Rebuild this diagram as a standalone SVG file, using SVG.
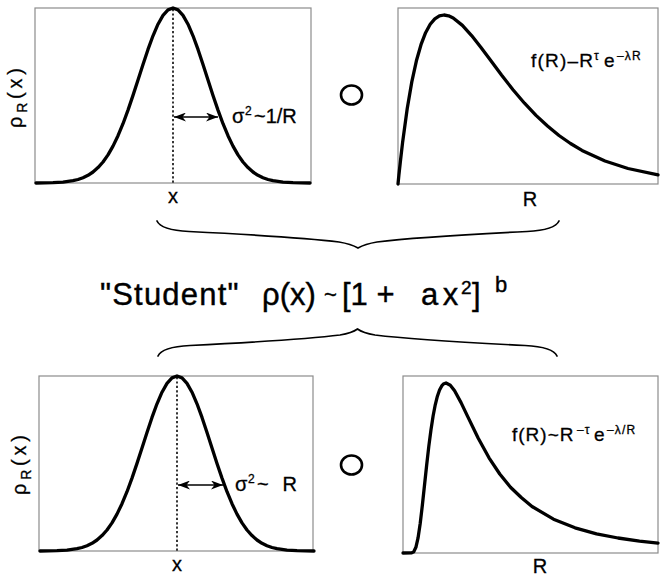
<svg xmlns="http://www.w3.org/2000/svg" xmlns:xlink="http://www.w3.org/1999/xlink" width="660" height="578" viewBox="0 0 660 578">
<style>
  .box { fill: none; stroke: #8c8c8c; stroke-width: 1.2; }
  .curve { fill: none; stroke: #000; stroke-width: 3.3; stroke-linejoin: round; stroke-linecap: round; }
  .dot { stroke: #222; stroke-width: 1.8; stroke-dasharray: 2.2 2.2; }
  .arr { stroke: #000; stroke-width: 1.7; marker-start: url(#ah); marker-end: url(#ah); }
  .op { fill: none; stroke: #000; stroke-width: 2.6; }
  .brace { fill: none; stroke: #000; stroke-width: 1.7; stroke-linecap: round; }
  text { font-family: "Liberation Sans", Arial, sans-serif; fill: #000; stroke: #000; stroke-width: 0.3; }
  .lab { font-size: 20px; }
  .sig { font-size: 20px; }
  .yl { font-size: 20px; }
  .fm { font-size: 19px; }
  .big { font-size: 31px; stroke-width: 0.4; }
</style>
<defs>
  <marker id="ah" viewBox="0 0 12 9" refX="12" refY="4.5" markerWidth="12" markerHeight="9" markerUnits="userSpaceOnUse" orient="auto-start-reverse">
    <path d="M0,0 L12,4.5 L0,9 L3.5,4.5 z" fill="#000"/>
  </marker>
  <path id="gauss" class="curve" d="M-137,0 L-120,-0.3 L-110,-0.9 L-100,-2.3 L-95,-3.5 L-90,-5.3 L-85,-7.7 L-80,-11 L-75,-15.4 L-70,-21 L-65,-28.1 L-60,-36.9 L-55,-47.3 L-50,-59.3 L-45,-72.9 L-40,-87.6 L-35,-103 L-30,-118.4 L-25,-133.6 L-20,-147.2 L-15,-158.8 L-10,-167.6 L-5,-173.1 L0,-175 L5,-173.1 L10,-167.6 L15,-158.8 L20,-147.2 L25,-133.6 L30,-118.4 L35,-103 L40,-87.6 L45,-72.9 L50,-59.3 L55,-47.3 L60,-36.9 L65,-28.1 L70,-21 L75,-15.4 L80,-11 L85,-7.7 L90,-5.3 L95,-3.5 L100,-2.3 L110,-0.9 L120,-0.3 L137,0"/>
</defs>

<g id="panel-top-left">
  <rect class="box" x="35" y="8" width="276" height="175"/>
  <line class="dot" x1="173" y1="9" x2="173" y2="183"/>
  <use xlink:href="#gauss" href="#gauss" transform="translate(173,183)"/>
  <line class="arr" x1="174" y1="117" x2="218" y2="117"/>
  <text class="sig" y="123"><tspan x="232">σ</tspan><tspan x="245" dy="-8" font-size="12">2</tspan><tspan x="254" dy="8">~1/R</tspan></text>
  <text class="lab" x="173" y="203" text-anchor="middle">x</text>
  <text class="yl" transform="translate(22,98) rotate(-90)" text-anchor="middle" textLength="60" lengthAdjust="spacing">ρ<tspan font-size="14" dy="5">R</tspan><tspan dy="-5">(x)</tspan></text>
</g>

<g id="op-top">
  <ellipse class="op" cx="351.5" cy="95" rx="10.5" ry="9.5"/>
</g>

<g id="panel-top-right">
  <rect class="box" x="398" y="8" width="260" height="176"/>
  <path class="curve" d="M398,184 L398.9,175 L400.3,162.2 L402.6,142.4 L407.2,108.8 L411.8,81.9 L416.4,60.8 L421,44.7 L425.6,32.7 L430.2,24.3 L434.8,18.9 L439.4,15.9 L444,15 L448.6,15.8 L453.2,18 L462.4,25.4 L471.6,35.6 L480.8,47.3 L490,59.6 L501.5,75 L513,89.7 L524.5,103.2 L536,115.4 L547.5,126 L559,135.5 L570.5,143.5 L582,150.4 L605,161 L628,168.5 L658,174.9"/>
  <text class="fm" y="67" letter-spacing="1.2"><tspan x="531">f(R)–R</tspan><tspan x="594" dy="-7" font-size="12">τ</tspan><tspan x="604" dy="7">e</tspan><tspan x="617" dy="-7" font-size="12" letter-spacing="1.2">–λR</tspan></text>
  <text class="lab" x="530" y="206" text-anchor="middle">R</text>
</g>

<g id="connectors">
  <path class="brace" d="M157,221 Q161,230 189,231.5 Q299,237 339,242 Q351,244 358,248 Q365,244 377,242 Q417,237 527,231.5 Q555,230 559,221"/>
  <path class="brace" d="M158,356 Q162,347 190,345.5 Q300,340 340,335 Q352,333 357.5,329 Q363,333 375,335 Q415,340 525,345.5 Q553,347 557,356"/>
</g>

<g id="formula">
  <text class="big" y="305"><tspan x="100" letter-spacing="1.2">"Student"  </tspan><tspan x="262">ρ(x) </tspan><tspan x="324" font-size="22" dy="-3">~ </tspan><tspan x="342" dy="3">[1 + </tspan><tspan x="421" word-spacing="-4">a x</tspan><tspan x="461" font-size="19" dy="-11">2</tspan><tspan x="472" dy="11">]</tspan><tspan x="495" font-size="22" dy="-13">b</tspan></text>
</g>

<g id="panel-bottom-left">
  <rect class="box" x="39" y="376" width="274" height="175"/>
  <line class="dot" x1="177" y1="377" x2="177" y2="551"/>
  <use xlink:href="#gauss" href="#gauss" transform="translate(177,551)"/>
  <line class="arr" x1="178" y1="485" x2="223" y2="485"/>
  <text class="sig" y="491"><tspan x="235">σ</tspan><tspan x="248" dy="-8" font-size="12">2</tspan><tspan x="257" dy="8">~</tspan><tspan x="277"> R</tspan></text>
  <text class="lab" x="177" y="571" text-anchor="middle">x</text>
  <text class="yl" transform="translate(26,465) rotate(-90)" text-anchor="middle" textLength="60" lengthAdjust="spacing">ρ<tspan font-size="14" dy="5">R</tspan><tspan dy="-5">(x)</tspan></text>
</g>

<g id="op-bottom">
  <ellipse class="op" cx="351.5" cy="465" rx="10.5" ry="9.5"/>
</g>

<g id="panel-bottom-right">
  <rect class="box" x="403" y="376" width="255" height="177"/>
  <path class="curve" d="M403,553 L411.6,552.9 L413.75,551.7 L415.9,547.3 L418.05,537.9 L420.2,523.5 L422.35,505.3 L424.5,485.3 L426.65,465.3 L428.8,446.4 L430.95,430 L433.1,416 L435.25,404.8 L437.4,396.2 L439.55,390 L441.7,385.9 L443.85,383.7 L446,383 L450.3,385.2 L454.6,390.8 L461.05,402.6 L467.5,416.1 L478.25,438.2 L489,457.8 L499.75,474 L510.5,487.2 L521.25,497.5 L532,506.5 L553.5,519.2 L575,527.8 L596.5,533.8 L618,538 L639.5,541.1 L658,543.1"/>
  <text class="fm" y="441" letter-spacing="1"><tspan x="512">f(R)~R</tspan><tspan x="577" dy="-7" font-size="12">–τ</tspan><tspan x="594" dy="7">e</tspan><tspan x="607" dy="-7" font-size="12" letter-spacing="1.2">–λ/R</tspan></text>
  <text class="lab" x="540" y="573" text-anchor="middle">R</text>
</g>
</svg>
